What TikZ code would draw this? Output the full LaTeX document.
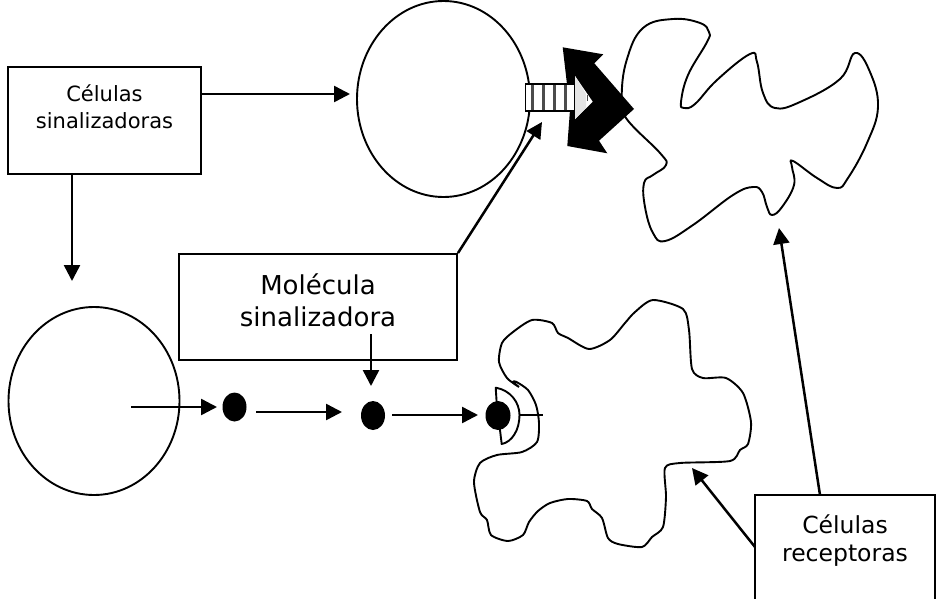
\documentclass[tikz,border=0pt]{standalone}
\usepackage{fontspec}
\setmainfont{DejaVu Sans}
\usetikzlibrary{arrows.meta,shapes.geometric}
\tikzset{
  cellbody/.style={draw,ellipse,line width=1.9pt,inner sep=0pt},
  cellline/.style={line width=1.9pt,line join=round},
  labelbox/.style={draw,rectangle,line width=1.9pt,inner sep=0pt,align=center,text=black},
  ligand/.style={fill=black,ellipse,inner sep=0pt,minimum width=24pt,minimum height=29pt},
  arr/.style={line width=2.5pt,-{Triangle[length=16pt,width=16pt]}},
  stripe/.style={line width=3pt,black!70}
}
\begin{document}
\begin{tikzpicture}[x=1pt,y=-1pt]
\clip[use as bounding box] (0,0) rectangle (938,598);
\fill[white] (0,0) rectangle (938,598);

% Two round cells
\node[cellbody,minimum width=173pt,minimum height=196pt] (cellA) at (443.5,99) {};
\node[cellbody,minimum width=171pt,minimum height=188pt] (cellB) at (94,401) {};

% Upper receiving cell
\draw[cellline] plot[smooth cycle,tension=0.7] coordinates {
 (621.7,96.7) (626.7,60) (643,28) (673,19) (700,23) (709,32) (707,42) (688,75) (681,102) (684,108)
 (695,104) (717,80) (750,54) (757,62) (763,93) (775,108) (800,102) (840,79) (855,53)
 (870,72) (878,107) (867,143) (848,178) (837,188) (817,178) (793,161) (792,167) (794,185)
 (782,207) (772,215) (767,207) (762,192) (753,187) (733,195) (693,225) (665,241) (653,233)
 (645,207) (644,183) (653,175) (666,165) (660,153) (626,118)};

% Lower receiving cell, with a rougher outline
\draw[cellline] plot[smooth,tension=0.45] coordinates {
 (519,387) (513,382) (516,381.7) (528,390) (536,405) (539,423) (537,442) (522,452) (497,455)
 (480,463) (474,482) (480,512) (487,520) (491,535) (508,541) (523,535) (529,522) (538,511)
 (550,503) (568,499) (587,501) (592,509) (602,518) (608,538) (618,544) (642,547) (652,537)
 (663,527) (666,497) (665,468) (680,463) (730,461) (740,450) (748,444) (751,422) (743,393)
 (726,378) (703,378) (692,369) (689,330) (683,309) (653,300) (635,312) (625,323) (610,340)
 (589,349) (568,338) (558,333) (552,323) (532,320) (513,332) (502,343) (499,362) (507,378) (519,387)};

% Heavy arrowhead-shaped ligand site
\fill[black] (562.7,47.3) -- (603.3,54.3) -- (594.3,63.3) -- (634,109) -- (599,140.7)
  -- (607.3,153.3) -- (567.3,146) -- (570,110) -- cycle;
\fill[white] (575,76) -- (592.7,101.7) -- (575,119) -- cycle;
\fill[black!10] (575,76) -- (586,94) -- (586,108) -- (575,119) -- cycle;
\draw[line width=1.5pt,black!70] (587.5,95) -- (587.5,101);

% Striped receptor
\node[draw,rectangle,fill=white,line width=1.9pt,inner sep=0pt,minimum width=49pt,minimum height=27pt] (rec) at (550,97.5) {};
\foreach \sx in {532,543,554,565} \draw[stripe] (\sx,85) -- (\sx,110);

% Cup-shaped receptor on the lower cell
\coordinate (cupT) at (495.7,387.7);
\coordinate (cupB) at (501.7,444);
\coordinate (cupM) at (519.5,415);
\coordinate (stemEnd) at (542.7,415);
\draw[cellline,fill=white] (cupB) .. controls (512,442) and (519.5,430) .. (cupM)
  .. controls (519.5,402) and (510,390) .. (cupT) -- (497,408) -- (500,430) -- cycle;
\draw[line width=1.9pt] (cupM) -- (stemEnd);

% Signalling molecules
\node[ligand] (m1) at (234.5,407) {};
\node[ligand] (m2) at (373,415.5) {};
\node[ligand,minimum width=25pt] (m3) at (498,415.5) {};

% Label boxes
\node[labelbox,minimum width=193pt,minimum height=107pt,font=\fontsize{21}{27}\selectfont] (sig) at (104.5,120.5) {Células\\sinalizadoras\\\mbox{}};
\node[labelbox,minimum width=278pt,minimum height=106pt] (mol) at (318,307) {};
\node[font=\fontsize{26}{32}\selectfont,align=center,text=black] (moltxt) at (318,300) {Molécula\\sinalizadora};
\node[labelbox,minimum width=180pt,minimum height=114pt,font=\fontsize{23.5}{28}\selectfont] (recp) at (845,552) {Células\\receptoras\\\mbox{}};

% Connector ends
\coordinate (toA) at (350,94);
\coordinate (toB) at (72,281);
\coordinate (toRec) at (542,122);
\coordinate (molDown) at (371,334);
\coordinate (molTip) at (371,386);
\coordinate (insideB) at (131,407);
\coordinate (m1Tip) at (217,407);
\coordinate (m1Out) at (256,412);
\coordinate (m2Tip) at (342,412);
\coordinate (m2Out) at (392,415);
\coordinate (m3Tip) at (478,415);
\coordinate (recStart) at (820,495);
\coordinate (upTip) at (779,228);
\coordinate (lowStart) at (755,547);
\coordinate (lowTip) at (692,468);

\draw[arr] (sig.east |- toA) -- (toA);
\draw[arr] (sig.south -| toB) -- (toB);
\draw[arr] (mol.north east) -- (toRec);
\draw[arr] (molDown) -- (molTip);
\draw[arr] (insideB) -- (m1Tip);
\draw[arr] (m1Out) -- (m2Tip);
\draw[arr] (m2Out) -- (m3Tip);
\draw[arr] (recStart) -- (upTip);
\draw[arr] (lowStart) -- (lowTip);
\end{tikzpicture}
\end{document}
